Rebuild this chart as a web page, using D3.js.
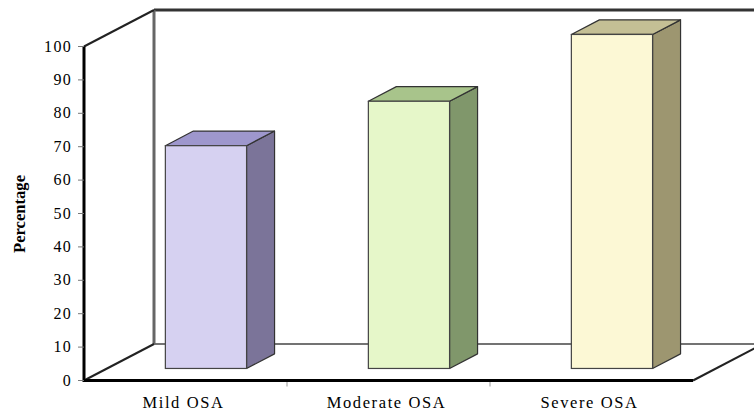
<!DOCTYPE html>
<html>
<head>
<meta charset="utf-8">
<script src="https://cdn.jsdelivr.net/npm/d3@7"></script>
<style>
  body { margin: 0; background: #fff; }
  svg { display: block; }
  .tick-label { font-family: "Liberation Serif", "Times New Roman", serif; font-size: 16px; letter-spacing: 1.3px; fill: #000; }
  .cat-label { font-family: "Liberation Serif", "Times New Roman", serif; font-size: 16.5px; letter-spacing: 1.6px; fill: #000; }
  .y-title { font-family: "Liberation Serif", "Times New Roman", serif; font-size: 17px; font-weight: bold; fill: #000; }
</style>
</head>
<body>
<div class="canvas"></div>
<script>
// chart data
const categories = ['Mild OSA', 'Moderate OSA', 'Severe OSA'];
const values = [66.7, 80, 100];
const yTicks = [0, 10, 20, 30, 40, 50, 60, 70, 80, 90, 100];
const frontColors = ['#d6d1f1', '#e6f7c9', '#fcf8d5'];
const sideColors = ['#7b7499', '#80976b', '#9d9670'];
const topColors = ['#9e97cd', '#a8c48b', '#c4bf95'];

const width = 754, height = 416;

const svg = d3.select('.canvas')
    .append('svg')
    .attr('width', width)
    .attr('height', height);

// scales (front plane)
const x = d3.scaleBand().domain(categories).range([84, 693]).padding(0);
const y = d3.scaleLinear().domain([0, 100]).range([380.5, 46.5]);

// depth of the 3d box
const dx = 70, dy = -36.5;
const zFront = 0.33, barDepth = 0.4;

const line = (x1, y1, x2, y2, stroke, w) => svg.append('line')
    .attr('x1', x1).attr('y1', y1).attr('x2', x2).attr('y2', y2)
    .attr('stroke', stroke).attr('stroke-width', w);

// back wall + floor edges
line(84 + dx, y(100) + dy, width + 5, y(100) + dy, '#333', 3);
line(84 + dx, y(0) + dy, width + 5, y(0) + dy, '#444', 1.5);
line(84 + dx, y(100) + dy, 84 + dx, y(0) + dy, '#666', 3);
line(84, y(100), 84 + dx, y(100) + dy, '#222', 2);
line(84, y(0), 84 + dx, y(0) + dy, '#222', 2);
line(693, y(0), 693 + dx, y(0) + dy, '#222', 2);

// bars
const bw = x.bandwidth();
const bars = svg.append('g').attr('class', 'bars');
categories.forEach((c, i) => {
    const x0 = x(c) + bw * 0.287 + zFront * dx;
    const x1 = x0 + bw * 0.4;
    const top = y(values[i]) + zFront * dy;
    const bot = y(0) + zFront * dy;
    const ox = barDepth * dx, oy = barDepth * dy;
    const g = bars.append('g');
    g.append('polygon')
        .attr('points', [[x1, top], [x1 + ox, top + oy], [x1 + ox, bot + oy], [x1, bot]].join(' '))
        .attr('fill', sideColors[i]).attr('stroke', '#333').attr('stroke-width', 1.2)
        .attr('stroke-linejoin', 'round');
    g.append('polygon')
        .attr('points', [[x0, top], [x0 + ox, top + oy], [x1 + ox, top + oy], [x1, top]].join(' '))
        .attr('fill', topColors[i]).attr('stroke', '#333').attr('stroke-width', 1.2)
        .attr('stroke-linejoin', 'round');
    g.append('rect')
        .attr('x', x0).attr('y', top)
        .attr('width', x1 - x0).attr('height', bot - top)
        .attr('fill', frontColors[i]).attr('stroke', '#444').attr('stroke-width', 1.2);
});

// front axis + floor
line(84, y(100), 84, y(0) + 1.5, '#000', 3);
line(84, y(0), 693, y(0), '#000', 3);

// y ticks
const yAxis = svg.append('g');
yTicks.forEach(t => {
    line(78, y(t), 84, y(t), '#777', 1);
    yAxis.append('text')
        .attr('class', 'tick-label')
        .attr('x', 72).attr('y', y(t) + 5)
        .attr('text-anchor', 'end')
        .text(t);
});

// x ticks at band edges
categories.slice(1).forEach(c => line(x(c), y(0) + 1.5, x(c), y(0) + 6, '#999', 1));

// category labels
categories.forEach(c => {
    svg.append('text')
        .attr('class', 'cat-label')
        .attr('x', x(c) + bw / 2 - 2)
        .attr('y', 408)
        .attr('text-anchor', 'middle')
        .text(c);
});

// y title
svg.append('text')
    .attr('class', 'y-title')
    .attr('transform', 'translate(25, 214) rotate(-90)')
    .attr('text-anchor', 'middle')
    .attr('textLength', 78)
    .attr('lengthAdjust', 'spacingAndGlyphs')
    .text('Percentage');
</script>
</body>
</html>
